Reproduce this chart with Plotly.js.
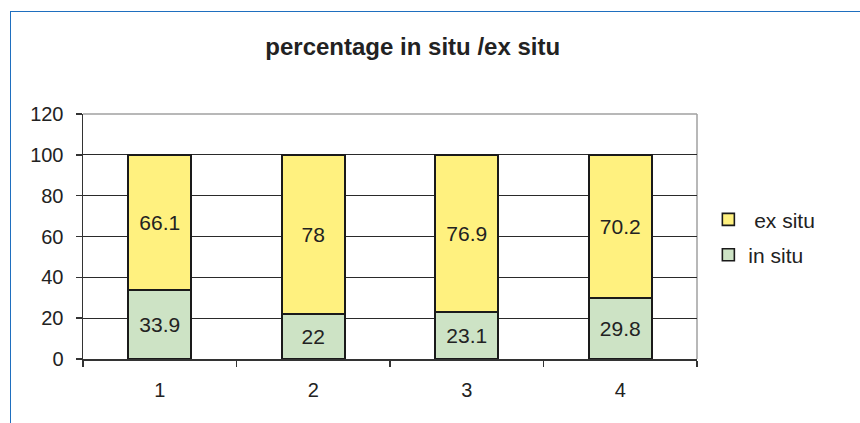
<!DOCTYPE html>
<html>
<head>
<meta charset="utf-8">
<script src="https://cdn.plot.ly/plotly-3.0.1.min.js"></script>
<style>
html,body{margin:0;padding:0;background:#fff;}
#wrap{position:relative;width:860px;height:423px;}
#chart{width:860px;height:423px;}
#frame{position:absolute;left:10px;top:11px;right:-5px;bottom:-5px;border-left:1.5px solid #1f6fbf;border-top:1.5px solid #1f6fbf;pointer-events:none;}
</style>
</head>
<body>
<div id="wrap"><div id="chart"></div><div id="frame"></div></div>
<script>
var categories = ["1", "2", "3", "4"];
var inSitu = [33.9, 22, 23.1, 29.8];
var exSitu = [66.1, 78, 76.9, 70.2];
var yTicks = [0, 20, 40, 60, 80, 100, 120];

var font = "Liberation Sans, Arial, sans-serif";
var common = {
  type: "bar",
  x: categories,
  width: 0.41,
  textposition: "inside",
  insidetextanchor: "middle",
  textangle: 0,
  textfont: {family: font, size: 21, color: "#222"},
  hoverinfo: "skip"
};
var tIn = Object.assign({}, common, {
  name: "in situ",
  legendgroup: "b",
  legendrank: 2,
  y: inSitu,
  text: inSitu.map(String),
  marker: {color: "#cde3c5", line: {color: "#1a1a1a", width: 1.6}}
});
var tEx = Object.assign({}, common, {
  name: "&nbsp;ex situ",
  legendgroup: "a",
  legendrank: 1,
  y: exSitu,
  text: exSitu.map(String),
  marker: {color: "#fff17f", line: {color: "#1a1a1a", width: 1.6}}
});

var layout = {
  width: 860, height: 423,
  margin: {l: 83, r: 163, t: 114, b: 64},
  paper_bgcolor: "#fff", plot_bgcolor: "#fff",
  barmode: "stack",
  bargap: 0.59,
  showlegend: true,
  font: {family: font, color: "#222"},
  title: {
    text: "<b>percentage in situ /ex situ</b>",
    font: {family: font, size: 24, color: "#222"},
    x: 0.537, xref: "paper", xanchor: "center",
    y: 1 - 47/423, yref: "container", yanchor: "middle"
  },
  xaxis: {
    type: "category",
    showgrid: false,
    showline: true, linecolor: "#333", linewidth: 1.5,
    ticks: "outside", tickson: "boundaries", ticklen: 6, tickcolor: "#333", tickwidth: 1.5,
    tickfont: {family: font, size: 20, color: "#222"},
    ticklabelstandoff: 12,
    fixedrange: true
  },
  yaxis: {
    range: [0, 120],
    tickvals: yTicks,
    ticktext: yTicks.map(String),
    showgrid: true, gridcolor: "#2a2a2a", gridwidth: 1,
    zeroline: false,
    showline: true, linecolor: "#333", linewidth: 1.5,
    ticks: "outside", ticklen: 6, tickcolor: "#333", tickwidth: 1.5,
    tickfont: {family: font, size: 20, color: "#222"},
    ticklabelstandoff: 8,
    fixedrange: true
  },
  legend: {
    x: 1.0185, xanchor: "left",
    y: 0.652, yanchor: "top",
    traceorder: "grouped",
    tracegroupgap: 5,
    font: {family: font, size: 21, color: "#222"},
    itemwidth: 30,
    bgcolor: "rgba(0,0,0,0)"
  },
  shapes: [
    {type: "line", xref: "paper", yref: "paper", x0: 0, x1: 1, y0: 1, y1: 1, line: {color: "#a0a0a0", width: 1.5}, layer: "above"},
    {type: "line", xref: "paper", yref: "paper", x0: 1, x1: 1, y0: 0, y1: 1, line: {color: "#a0a0a0", width: 1.5}, layer: "below"}
  ]
};

Plotly.newPlot("chart", [tIn, tEx], layout, {staticPlot: true, displayModeBar: false});
</script>
</body>
</html>
